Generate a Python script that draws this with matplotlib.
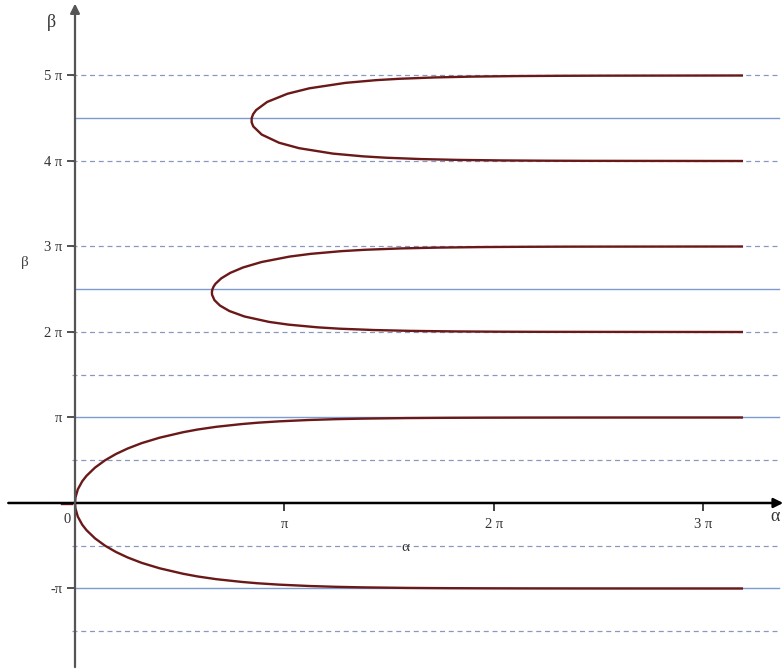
import numpy as np
import matplotlib
matplotlib.use("Agg")
import matplotlib.pyplot as plt

PI = np.pi

# branch through the origin (upper half; lower half is the mirror image)
c1_alpha = [0.0, 0.0067, 0.042, 0.109, 0.173, 0.30, 0.452, 0.614, 0.788, 1.00,
            1.27, 1.62, 1.84, 2.12, 2.50, 2.74, 3.06, 3.51, 3.91, 4.31, 4.97,
            5.60, 6.17, 6.77, 7.59, 8.50, 10.0]
c1_beta = [0.0, 0.2, 0.5, 0.8, 1.0, 1.3, 1.571, 1.8, 2.0, 2.2,
           2.4, 2.6, 2.7, 2.8, 2.9, 2.95, 3.0, 3.05, 3.08, 3.10, 3.12,
           3.13, 3.135, 3.138, 3.140, 3.141, 3.1415]

# branch between 2pi and 3pi
c2_alpha = [10.0, 7.00, 6.37, 5.71, 5.04, 4.50, 3.97, 3.64, 3.20, 2.91, 2.54,
            2.315, 2.174, 2.091, 2.055, 2.053, 2.061, 2.079, 2.106, 2.193,
            2.327, 2.520, 2.797, 3.218, 3.533, 3.997, 4.347, 4.885, 5.438,
            6.114, 6.771, 7.393, 10.0]
c2_beta = [6.2827, 6.289, 6.294, 6.304, 6.324, 6.354, 6.404, 6.454, 6.554,
           6.654, 6.854, 7.054, 7.254, 7.454, 7.654, 7.754, 7.854, 7.954,
           8.054, 8.254, 8.454, 8.654, 8.854, 9.054, 9.154, 9.254, 9.304,
           9.354, 9.384, 9.404, 9.414, 9.419, 9.4243]

# branch between 4pi and 5pi
c3_alpha = [10.0, 7.68, 7.06, 6.41, 5.73, 5.19, 4.66, 4.32, 3.87, 3.36, 3.06,
            2.80, 2.673, 2.649, 2.649, 2.671, 2.716, 2.882, 3.186, 3.514,
            4.055, 4.515, 4.862, 5.398, 5.951, 6.626, 7.282, 7.904, 10.0]
c3_beta = [12.566, 12.572, 12.577, 12.587, 12.607, 12.637, 12.687, 12.737,
           12.837, 13.037, 13.237, 13.537, 13.837, 13.987, 14.137, 14.287,
           14.437, 14.737, 15.037, 15.237, 15.437, 15.537, 15.587, 15.637,
           15.667, 15.687, 15.697, 15.702, 15.708]

# small stray piece left of the origin
stray_alpha = [-0.20, -0.05]
stray_beta = [-0.03, -0.03]

# reference lines (multiples of pi)
dashed_levels = [-1.5, -0.5, 0.5, 1.5, 2, 3, 4, 5]
solid_levels = [-1, 1, 2.5, 4.5]

xtick_vals = [1, 2, 3]
xtick_labels = ["\u03c0", "2 \u03c0", "3 \u03c0"]
ytick_vals = [-1, 1, 2, 3, 4, 5]
ytick_labels = ["-\u03c0", "\u03c0", "2 \u03c0", "3 \u03c0", "4 \u03c0", "5 \u03c0"]

plt.rcParams['font.family'] = ['Liberation Serif', 'DejaVu Serif']

fig = plt.figure(figsize=(7.83, 6.72), dpi=100)
ax = fig.add_axes([0, 0, 1, 1])
ax.set_xlim(-1.1247, 10.617)
ax.set_ylim(-6.210, 18.482)

curve_col = '#6a1818'
line_col = '#7d9bcf'
dash_col = '#8899c0'

for lv in dashed_levels:
    ax.plot([-0.05, 10.55], [lv * PI, lv * PI], color=dash_col, lw=0.9,
            linestyle=(0, (4, 3)), zorder=1)
for lv in solid_levels:
    ax.plot([0, 10.55], [lv * PI, lv * PI], color=line_col, lw=1.0, zorder=1)

ax.plot(c1_alpha, c1_beta, color=curve_col, lw=1.7, zorder=3)
ax.plot(c1_alpha, [-b for b in c1_beta], color=curve_col, lw=1.7, zorder=3)
ax.plot(c2_alpha, c2_beta, color=curve_col, lw=1.7, zorder=3)
ax.plot(c3_alpha, c3_beta, color=curve_col, lw=1.7, zorder=3)
ax.plot(stray_alpha, stray_beta, color=curve_col, lw=1.7, zorder=3)

# axes through the origin with arrow heads
ax.annotate('', xy=(10.62, 0), xytext=(-1.0, 0),
            arrowprops=dict(arrowstyle='-|>', color='black', lw=1.8,
                            mutation_scale=14, shrinkA=0, shrinkB=0), zorder=4)
ax.annotate('', xy=(0, 18.35), xytext=(0, -6.03),
            arrowprops=dict(arrowstyle='-|>', color='#555555', lw=1.6,
                            mutation_scale=14, shrinkA=0, shrinkB=0), zorder=4)

for s in ['top', 'right']:
    ax.spines[s].set_visible(False)
ax.spines['left'].set_position(('data', 0))
ax.spines['bottom'].set_position(('data', 0))
ax.spines['left'].set_visible(False)
ax.spines['bottom'].set_visible(False)

ax.set_xticks([v * PI for v in xtick_vals])
ax.set_xticklabels(xtick_labels)
ax.set_yticks([v * PI for v in ytick_vals])
ax.set_yticklabels(ytick_labels)
ax.tick_params(axis='x', direction='out', length=6, width=1.3, color='#333333',
               labelsize=10.5, labelcolor='#333333', pad=5)
ax.tick_params(axis='y', direction='out', length=6, width=1.3, color='#444444',
               labelsize=10.5, labelcolor='#333333', pad=3)

ax.text(-0.12, -0.59, '0', ha='center', va='center', fontsize=10.5, color='#333333')
ax.text(-0.35, 17.64, '\u03b2', ha='center', va='center', fontsize=13, color='#333333')
ax.text(-0.75, 8.85, '\u03b2', ha='center', va='center', fontsize=11, color='#444444')
ax.text(4.95, -1.65, '\u03b1', ha='center', va='center', fontsize=11, color='#333333')
ax.text(10.50, -0.48, '\u03b1', ha='center', va='center', fontsize=13, color='#333333')

fig.savefig('out.png', dpi=100)
